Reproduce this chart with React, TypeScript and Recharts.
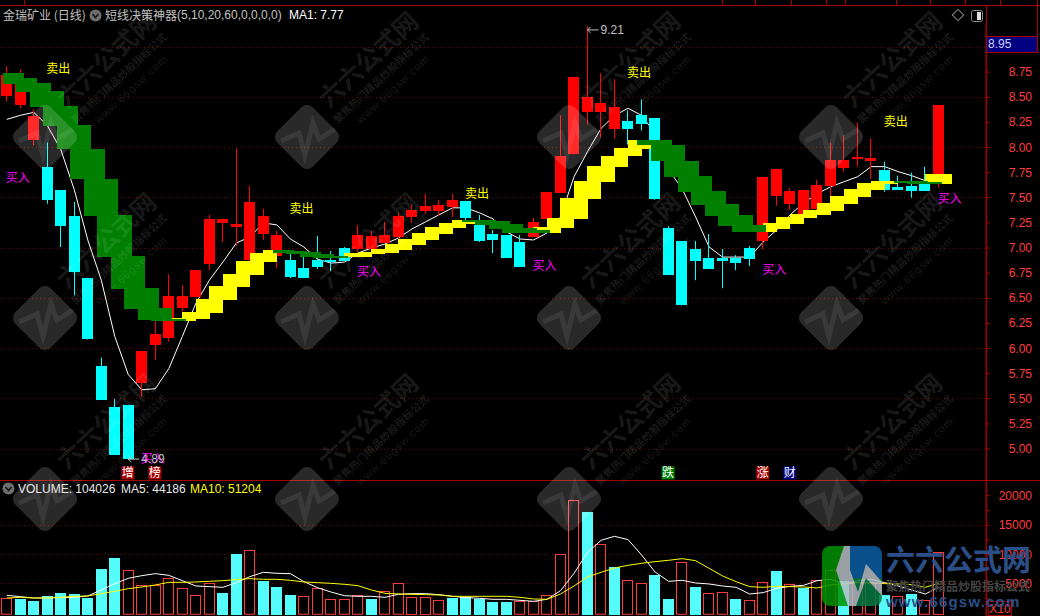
import { ComposedChart, Bar, Line, XAxis, YAxis, CartesianGrid, ReferenceDot } from "recharts"

const opens = [8.51,8.42,8.07,7.81,7.58,7.32,6.70,5.83,5.42,5.44,5.66,6.03,6.10,6.40,6.51,6.84,7.25,7.21,6.88,7.14,6.92,6.88,6.80,6.88,6.88,7.00,6.99,6.99,7.05,7.11,7.31,7.37,7.37,7.41,7.47,7.23,7.14,7.13,7.06,7.11,7.29,7.55,7.93,8.35,8.35,8.18,8.26,8.32,8.29,7.20,7.07,6.99,6.90,6.90,6.90,7.00,7.07,7.52,7.44,7.34,7.39,7.62,7.80,7.89,7.87,7.78,7.61,7.62,7.64,7.64]
const highs = [8.81,8.78,8.38,8.05,7.58,7.46,6.70,5.91,5.50,5.44,5.98,6.28,6.74,6.63,6.78,7.33,7.29,7.99,7.62,7.39,7.17,6.96,6.92,7.12,6.97,7.01,7.23,7.17,7.26,7.35,7.43,7.54,7.48,7.54,7.47,7.33,7.18,7.13,7.13,7.30,7.56,8.32,8.70,9.21,8.74,8.68,8.37,8.48,8.29,7.22,7.07,7.07,7.14,6.99,6.93,7.02,7.71,7.79,7.60,7.58,7.68,8.05,8.12,8.25,8.09,7.86,7.72,7.75,7.81,8.42]
const lows = [8.46,8.39,8.02,7.44,7.01,6.53,6.09,5.49,4.94,4.89,5.52,5.89,6.07,6.37,6.51,6.78,7.06,7.02,6.88,7.08,6.80,6.70,6.70,6.79,6.77,6.87,6.96,6.96,7.05,7.06,7.25,7.34,7.32,7.31,7.28,7.06,6.95,6.90,6.81,7.11,7.29,7.55,7.93,8.23,8.10,8.09,8.03,8.17,7.48,6.73,6.43,6.68,6.79,6.60,6.78,6.82,6.99,7.42,7.38,7.34,7.30,7.50,7.76,7.81,7.69,7.56,7.58,7.50,7.57,7.60]
const closes = [8.72,8.64,8.31,7.48,7.22,6.76,6.09,5.49,4.94,4.90,5.98,6.14,6.52,6.52,6.78,7.29,7.29,7.24,7.46,7.32,7.13,6.71,6.70,6.81,6.86,6.87,7.13,7.12,7.13,7.32,7.38,7.42,7.43,7.48,7.30,7.07,7.08,6.90,6.81,7.26,7.56,7.92,8.70,8.50,8.44,8.40,8.18,8.23,7.48,6.73,6.43,6.87,6.79,6.87,6.85,6.89,7.71,7.79,7.57,7.58,7.63,7.88,7.88,7.91,7.90,7.58,7.58,7.57,7.57,8.42]
const ma1 = [8.28,8.32,8.35,8.22,7.98,7.58,7.08,6.68,6.12,5.74,5.59,5.60,5.80,6.12,6.45,6.68,6.86,7.05,7.11,7.25,7.23,7.09,7.01,6.89,6.85,6.86,6.95,7.00,7.04,7.10,7.19,7.26,7.33,7.40,7.40,7.35,7.29,7.16,7.09,7.08,7.15,7.31,7.71,7.96,8.19,8.32,8.39,8.32,8.14,7.78,7.59,7.31,7.01,6.91,6.91,6.91,7.06,7.18,7.33,7.45,7.54,7.61,7.66,7.71,7.81,7.81,7.76,7.72,7.67,7.77]

const n = null
const yellowTop = [n,n,n,n,n,n,n,n,n,n,n,n,6.30,6.36,6.49,6.62,6.74,6.87,6.95,6.98,n,n,n,n,n,6.95,6.96,6.99,7.04,7.09,7.15,7.21,7.25,7.28,7.27,n,n,n,n,7.21,7.30,7.50,7.67,7.82,7.92,8.00,8.07,8.04,n,n,n,n,n,n,n,n,7.25,7.31,7.34,7.38,7.45,7.52,7.59,7.65,7.67,7.67,n,n,7.74,7.74]
const yellowBottom = [n,n,n,n,n,n,n,n,n,n,n,n,6.29,6.27,6.29,6.35,6.48,6.61,6.73,6.86,n,n,n,n,n,6.91,6.91,6.94,6.95,6.98,7.03,7.08,7.14,7.20,7.24,n,n,n,n,7.16,7.15,7.20,7.29,7.49,7.66,7.81,7.91,7.99,n,n,n,n,n,n,n,n,7.16,7.19,7.24,7.30,7.33,7.37,7.44,7.51,7.58,7.64,n,n,7.64,7.64]
const greenTop = [8.74,8.69,8.64,8.56,8.41,8.22,7.99,7.69,7.33,6.92,6.60,6.40,6.29,n,n,n,n,n,n,n,6.98,6.97,6.96,6.94,6.92,n,n,n,n,n,n,n,n,n,7.28,7.28,7.27,7.24,7.20,7.18,n,n,n,n,n,n,n,8.07,8.07,8.03,7.87,7.72,7.57,7.44,7.33,7.23,n,n,n,n,n,n,n,n,n,n,7.67,7.67,7.66,n]
const greenBottom = [8.63,8.55,8.40,8.21,7.98,7.68,7.32,6.91,6.59,6.39,6.28,6.27,6.27,n,n,n,n,n,n,n,6.95,6.94,6.91,6.90,6.90,n,n,n,n,n,n,n,n,n,7.26,7.23,7.19,7.15,7.15,7.15,n,n,n,n,n,n,n,8.02,7.86,7.71,7.56,7.43,7.32,7.22,7.16,7.16,n,n,n,n,n,n,n,n,n,n,7.65,7.64,7.64,n]

const volumes = [2562,2449,2108,2958,3468,3298,2618,7545,9414,7318,4770,4770,5959,4260,3071,5110,3468,10093,10716,5507,4487,3128,2901,4260,2391,2391,3071,2449,3751,5110,2788,2788,2222,2618,2788,2449,1939,1939,2052,2052,3071,10037,19211,17229,11736,7885,5620,5110,6526,2449,8678,4487,3411,3581,2449,2222,5280,7205,4940,4317,5620,7318,5507,5280,5110,3128,2901,3298,2222,10403]
const volRed = [1,0,0,0,0,0,0,0,0,1,1,1,1,1,1,1,0,0,1,0,0,0,1,1,1,1,1,0,1,1,1,1,1,0,0,0,0,0,1,1,1,1,1,0,1,0,1,1,0,0,1,0,1,1,0,1,1,0,1,0,1,1,0,1,1,0,1,0,1,1]
const volMa5 = [3072,2845,2618,2618,2675,2731,2958,3977,5053,5959,6412,6752,6469,5563,4657,4544,4430,5223,6243,6979,6809,6752,5393,4374,3637,3015,2901,2901,2731,3241,3354,3354,3185,2901,2675,2562,2392,2392,2222,2052,2392,3864,6809,10376,12415,13095,12529,9924,7035,5450,5620,5166,4997,4657,4430,3298,3525,4260,4600,4770,5563,5790,4997,5563,5790,5223,4657,3977,3298,4419]
const volMa10 = [2618,2731,2618,2618,2731,2901,2958,3354,3751,4204,4487,4827,5280,5280,5337,5450,5563,5733,5903,5790,5790,5620,5337,5223,5110,4940,4713,3977,3411,3298,3241,3185,3128,2901,2901,2901,2901,2901,2731,2449,2392,3298,4657,6186,6979,7715,8168,8508,8791,9018,9300,8961,7658,6356,5393,4544,4430,4600,4544,4487,4317,4827,4940,5223,5223,5053,4997,4884,4430,5120]

const priceTicks = [5,5.25,5.5,5.75,6,6.25,6.5,6.75,7,7.25,7.5,7.75,8,8.25,8.5,8.75]
const priceGrid = [5,5.5,6,6.5,7,7.5,8,8.5,9]
const volTicks = [2500,5000,7500,10000,12500,15000,17500,20000]
const volGrid = [5000,10000,15000]
const signals = [
  { day: 3, price: 8.78, text: "卖出", color: "#FFFF00" },
  { day: 0, price: 7.70, text: "买入", color: "#FF00FF" },
  { day: 21, price: 7.39, text: "卖出", color: "#FFFF00" },
  { day: 26, price: 6.76, text: "买入", color: "#FF00FF" },
  { day: 34, price: 7.54, text: "卖出", color: "#FFFF00" },
  { day: 39, price: 6.82, text: "买入", color: "#FF00FF" },
  { day: 46, price: 8.74, text: "卖出", color: "#FFFF00" },
  { day: 56, price: 6.78, text: "买入", color: "#FF00FF" },
  { day: 65, price: 8.25, text: "卖出", color: "#FFFF00" },
  { day: 69, price: 7.49, text: "买入", color: "#FF00FF" },
  { day: 10, price: 4.90, text: "买入", color: "#FF00FF" },
]
const extremes = [
  { day: 43, price: 9.21, dy: 4 },
  { day: 9, price: 4.89, dy: -1 },
]
const tags = [
  { day: 9, text: "增", color: "#A80000" },
  { day: 11, text: "榜", color: "#A80000" },
  { day: 49, text: "跌", color: "#008000" },
  { day: 56, text: "涨", color: "#A80000" },
  { day: 58, text: "财", color: "#000080" },
]

// 3 empty slots on the right, the last candle does not touch the axis
const days = Array.from({ length: 73 }, (_, i) => i)
const priceData = days.map(i => ({
  day: i,
  open: opens[i],
  high: highs[i],
  low: lows[i],
  close: closes[i],
  ma1: ma1[i],
  yellowTop: yellowTop[i],
  yellowBottom: yellowBottom[i],
  greenTop: greenTop[i],
  greenBottom: greenBottom[i],
}))
const volFloor = -280
const volData = days.map(i => ({
  day: i,
  volume: volumes[i],
  red: volRed[i],
  ma5: volMa5[i],
  ma10: volMa10[i],
}))

const CHART_W = 1040
const AXIS_W = 54
const SLOT = (CHART_W - AXIS_W) / days.length
const AXIS_RED = "#A80000"
const LABEL_RED = "#FF3C3C"
const GRID_RED = "#7A0000"
const font = '"Liberation Sans", Arial, sans-serif'
const cjk = '"Noto Sans CJK SC", sans-serif'

function WickShape(props: any) {
  const { x, y, width, height, payload } = props
  if (payload.high == null) return <g />
  const up = payload.close >= payload.open
  return <rect x={Math.round(x) + 5} y={y} width={1} height={height} fill={up ? "#FF0000" : "#00FFFF"} />
}

function BodyShape(props: any) {
  const { x, y, width, height, payload } = props
  if (payload.high == null) return <g />
  const up = payload.close >= payload.open
  return <rect x={Math.round(x)} y={Math.round(y)} width={width} height={Math.max(Math.round(height), 1)} fill={up ? "#FF0000" : "#00FFFF"} />
}

// yellow runs from this candle's centre to the next one
function YellowShape(props: any) {
  const { x, y, width, height, payload } = props
  if (payload.yellowTop == null) return <g />
  return <rect x={Math.round(x + width / 2)} y={Math.round(y)} width={Math.round(SLOT)} height={Math.round(height)} fill="#FFFF00" />
}

// green is wider, it sticks out on both sides
function GreenShape(props: any) {
  const { x, y, width, height, payload } = props
  if (payload.greenTop == null) return <g />
  return <rect x={Math.round(x + width / 2 - 4)} y={Math.round(y)} width={21} height={Math.max(Math.round(height), 2)} fill="#007F00" />
}

function VolumeShape(props: any) {
  const { x, y, width, height, payload } = props
  if (payload.volume == null) return <g />
  const left = Math.round(x)
  const top = Math.round(y)
  if (payload.red) {
    return <rect x={left + 0.5} y={top + 0.5} width={width - 1} height={height - 1} fill="none" stroke="#FF3C3C" />
  }
  return <rect x={left} y={top} width={width} height={height} fill="#54FCFC" />
}

function PriceTick({ y, payload }: any) {
  return (
    <text x={1032} y={y + 4} textAnchor="end" fill={LABEL_RED} fontSize={12} fontFamily={font}>
      {payload.value.toFixed(2)}
    </text>
  )
}

function VolTick({ y, payload }: any) {
  if (payload.value % 5000 !== 0) return <g />
  return (
    <text x={1032} y={y + 4} textAnchor="end" fill={LABEL_RED} fontSize={12} fontFamily={font}>
      {payload.value}
    </text>
  )
}

function Chevron({ left, top }: { left: number; top: number }) {
  return (
    <svg style={{ position: "absolute", left, top }} width={13} height={13}>
      <circle cx={6.5} cy={6.5} r={6} fill="#6E6E6E" />
      <path d="M3.5 5 L6.5 8.5 L9.5 5" stroke="#111" strokeWidth={1.5} fill="none" />
    </svg>
  )
}

function label(left: number, top: number, text: string, color: string, family = font) {
  return (
    <div style={{ position: "absolute", left, top, color, fontSize: 12, lineHeight: "14px", fontFamily: family, whiteSpace: "pre" }}>
      {text}
    </div>
  )
}

const markX = [45, 307, 569, 831]
const markY = [137, 318, 499]

function Watermark() {
  const rows = markY.flatMap(top => markX.map(left => ({ left, top })))
  const ink = "rgba(255,255,255,0.16)"
  const faint = "rgba(255,255,255,0.11)"
  return (
    <div style={{ position: "absolute", left: 0, top: 0, width: 1040, height: 616, overflow: "hidden", pointerEvents: "none" }}>
      {rows.map(({ left, top }, i) => (
        <div key={i}>
          <svg style={{ position: "absolute", left: left - 38, top: top - 38 }} width={76} height={76}>
            <rect x={13} y={13} width={50} height={50} rx={8} fill={ink} transform="rotate(45 38 38)" />
            <path d="M12 42 L30 34 L36 56 L44 24 L50 40 L66 30" stroke="rgba(255,255,255,0.08)" strokeWidth={5} fill="none" />
          </svg>
          <div style={{ position: "absolute", left: left + 60 - 70, top: top - 79 - 14, width: 140, height: 28, lineHeight: "28px", textAlign: "center", transform: "rotate(-43deg)", color: faint, fontSize: 25, fontWeight: 700, fontFamily: cjk, whiteSpace: "nowrap" }}>
            六六公式网
          </div>
          <div style={{ position: "absolute", left: left + 74 - 70, top: top - 59 - 7, width: 140, height: 14, lineHeight: "14px", textAlign: "center", transform: "rotate(-43deg)", color: faint, fontSize: 10.5, fontWeight: 700, fontFamily: cjk, whiteSpace: "nowrap" }}>
            聚焦热门精品炒股指标公式
          </div>
          <div style={{ position: "absolute", left: left + 86 - 50, top: top - 48 - 7, width: 100, height: 14, lineHeight: "14px", textAlign: "center", transform: "rotate(-43deg)", color: faint, fontSize: 11, letterSpacing: 1, fontFamily: font, whiteSpace: "nowrap" }}>
            www.66gsw.com
          </div>
        </div>
      ))}
      <svg style={{ position: "absolute", left: 822, top: 546 }} width={60} height={60}>
        <defs>
          <clipPath id="logo">
            <rect width={60} height={60} rx={8} />
          </clipPath>
        </defs>
        <g clipPath="url(#logo)" opacity={0.85}>
          <rect width={26} height={60} fill="#009000" />
          <rect x={26} width={34} height={60} fill="#0A5FA5" />
          <rect y={32} x={26} width={34} height={28} fill="#008A00" opacity={0.6} />
          <path d="M22 0 L28 0 L28 24 L36 46 L44 18 L60 36 L60 50 L44 32 L34 60 L26 60 L14 24 Z" fill="#B4BEC4" />
        </g>
      </svg>
      <div style={{ position: "absolute", left: 886, top: 538, color: "#2A4F88", fontSize: 29, fontWeight: 700, fontFamily: cjk, lineHeight: "40px", whiteSpace: "nowrap" }}>
        六六公式网
      </div>
      <div style={{ position: "absolute", left: 886, top: 579, color: "#444444", fontSize: 12, fontWeight: 700, fontFamily: cjk, lineHeight: "14px", whiteSpace: "nowrap" }}>
        聚焦热门精品炒股指标公式
      </div>
      <div style={{ position: "absolute", left: 886, top: 593, color: "#2A4F88", fontSize: 15, fontWeight: 700, letterSpacing: 1.2, fontFamily: font, lineHeight: "18px", whiteSpace: "nowrap" }}>
        www.66gsw.com
      </div>
    </div>
  )
}

export default function App() {
  return (
    <div style={{ position: "absolute", left: 0, top: 0, width: 1040, height: 616, background: "#000", overflow: "hidden" }}>
      {/* top strip */}
      <div style={{ position: "absolute", left: 0, top: 5, width: 1040, height: 1, background: AXIS_RED }} />
      {[24, 722, 755, 791, 826, 845, 896, 930, 965, 1000].map(x => (
        <div key={x} style={{ position: "absolute", left: x, top: 0, width: 1, height: 5, background: AXIS_RED }} />
      ))}
      <div style={{ position: "absolute", left: 986, top: 5, width: 1, height: 611, background: AXIS_RED }} />
      <div style={{ position: "absolute", left: 1037, top: 0, width: 1, height: 52, background: AXIS_RED }} />

      {label(3, 8, "金瑞矿业 (日线)", "#C0C0C0", cjk)}
      <Chevron left={89} top={9} />
      {label(105, 8, "短线决策神器", "#C0C0C0", cjk)}
      {label(177, 8, "(5,10,20,60,0,0,0,0)", "#C0C0C0")}
      {label(289, 8, "MA1: 7.77", "#FFFFFF")}

      <svg style={{ position: "absolute", left: 950, top: 7 }} width={36} height={18}>
        <rect x={4} y={4} width={8} height={8} fill="none" stroke="#8A8A8A" transform="rotate(45 8 8)" />
        <rect x={21.5} y={3.5} width={11} height={11} rx={2} fill="none" stroke="#8A8A8A" />
        <rect x={27} y={5} width={4} height={8} fill="#E0E0E0" />
      </svg>

      <ComposedChart
        width={CHART_W}
        height={458}
        data={priceData}
        margin={{ top: 0, right: 0, bottom: 0, left: 0 }}
        barGap={-11}
        barSize={11}
        style={{ position: "absolute", left: 0, top: 22 }}
      >
        <CartesianGrid vertical={false} horizontalValues={priceGrid} stroke={GRID_RED} strokeDasharray="1 3" shapeRendering="crispEdges" />
        <XAxis dataKey="day" hide type="category" />
        <YAxis
          orientation="right"
          width={AXIS_W}
          domain={[4.692, 9.249]}
          allowDataOverflow
          ticks={priceTicks}
          interval={0}
          tick={<PriceTick />}
          tickSize={4}
          tickLine={{ stroke: AXIS_RED }}
          axisLine={{ stroke: AXIS_RED }}
        />
        <Line dataKey="ma1" stroke="#FFFFFF" strokeWidth={1} dot={false} isAnimationActive={false} zIndex={250} />
        <Bar dataKey={(d: any) => (d.high == null ? null : [d.low, d.high])} shape={<WickShape />} isAnimationActive={false} />
        <Bar dataKey={(d: any) => (d.high == null ? null : [Math.min(d.open, d.close), Math.max(d.open, d.close)])} shape={<BodyShape />} isAnimationActive={false} />
        <Bar dataKey={(d: any) => (d.yellowTop == null ? null : [d.yellowBottom, d.yellowTop])} shape={<YellowShape />} isAnimationActive={false} />
        <Bar dataKey={(d: any) => (d.greenTop == null ? null : [d.greenBottom, d.greenTop])} shape={<GreenShape />} isAnimationActive={false} />
        {signals.map(s => (
          <ReferenceDot
            key={s.day + s.text}
            x={s.day}
            y={s.price}
            r={0}
            shape={({ cx, cy }: any) => (
              <text x={cx - 1} y={cy + 4} fill={s.color} fontSize={12} fontFamily={cjk}>
                {s.text}
              </text>
            )}
          />
        ))}
        {extremes.map(e => (
          <ReferenceDot
            key={e.day}
            x={e.day}
            y={e.price}
            r={0}
            shape={({ cx, cy }: any) => (
              <g transform={`translate(0 ${e.dy})`}>
                <path d={`M${cx + 3} ${cy - 3} L${cx} ${cy} L${cx + 3} ${cy + 3} M${cx} ${cy} H${cx + 11}`} stroke="#C0C0C0" fill="none" />
                <text x={cx + 13} y={cy + 4} fill="#C0C0C0" fontSize={12} fontFamily={font}>
                  {e.price.toFixed(2)}
                </text>
              </g>
            )}
          />
        ))}
        {tags.map(t => (
          <ReferenceDot
            key={t.day}
            x={t.day}
            y={4.762}
            r={0}
            shape={({ cx, cy }: any) => (
              <g>
                <rect x={cx - 7} y={cy - 6.5} width={13} height={13} fill={t.color} />
                <text x={cx - 0.5} y={cy + 4.5} textAnchor="middle" fill="#FFFFFF" fontSize={12} fontFamily={cjk}>
                  {t.text}
                </text>
              </g>
            )}
          />
        ))}
      </ComposedChart>

      <div style={{ position: "absolute", left: 986, top: 36, width: 52, height: 17, boxSizing: "border-box", border: `1px solid ${AXIS_RED}`, background: "#000080", color: "#D0D0FF", fontSize: 12, lineHeight: "15px", paddingLeft: 1, fontFamily: font }}>
        8.95
      </div>

      <div style={{ position: "absolute", left: 0, top: 480, width: 1040, height: 1, background: AXIS_RED }} />

      <ComposedChart
        width={CHART_W}
        height={135}
        data={volData}
        margin={{ top: 0, right: 0, bottom: 0, left: 0 }}
        barSize={11}
        style={{ position: "absolute", left: 0, top: 481 }}
      >
        <CartesianGrid vertical={false} horizontalValues={volGrid} stroke={GRID_RED} strokeDasharray="1 3" shapeRendering="crispEdges" />
        <XAxis dataKey="day" hide type="category" />
        <YAxis
          orientation="right"
          width={AXIS_W}
          domain={[-442, 22490]}
          allowDataOverflow
          ticks={volTicks}
          interval={0}
          tick={<VolTick />}
          tickSize={4}
          tickLine={{ stroke: AXIS_RED }}
          axisLine={{ stroke: AXIS_RED }}
        />
        <Bar dataKey={(d: any) => (d.volume == null ? null : [volFloor, d.volume])} shape={<VolumeShape />} isAnimationActive={false} />
        <Line dataKey="ma5" stroke="#FFFFFF" strokeWidth={1} dot={false} isAnimationActive={false} />
        <Line dataKey="ma10" stroke="#FFFF00" strokeWidth={1} dot={false} isAnimationActive={false} />
      </ComposedChart>

      <Chevron left={2} top={482} />
      {label(18, 482, "VOLUME: 104026", "#E8E8E8")}
      {label(121, 482, "MA5: 44186", "#E8E8E8")}
      {label(190, 482, "MA10: 51204", "#FFFF00")}
      <div style={{ position: "absolute", left: 988, top: 601, width: 24, height: 15, boxSizing: "border-box", border: `1px solid ${AXIS_RED}`, color: LABEL_RED, fontSize: 12, lineHeight: "14px", textAlign: "center", fontFamily: font }}>
        X10
      </div>

      <Watermark />
    </div>
  )
}
